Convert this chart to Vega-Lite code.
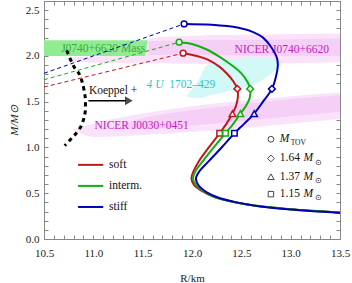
{
  "$schema": "https://vega.github.io/schema/vega-lite/v6.json",
  "width": 296,
  "height": 238,
  "autosize": {"type": "none"},
  "padding": {"left": 44, "top": 1, "right": 12, "bottom": 44},
  "background": "white",
  "config": {
    "font": "Liberation Serif",
    "view": {"stroke": "#888", "strokeWidth": 1},
    "axis": {"grid": false, "domain": false, "tickColor": "#888", "tickSize": -4, "labelFont": "Liberation Serif", "labelFontSize": 11, "labelColor": "#222", "titleFont": "Liberation Serif", "titleFontSize": 11, "titleFontWeight": "normal", "titleColor": "#222", "labelOverlap": false, "labelFlush": false}
  },
  "resolve": {"axis": {"x": "independent", "y": "independent"}},
  "datasets": {
    "band": [{"R": 10.5, "R2": 13.5, "M": 2.0, "M2": 2.17}],
    "j0740o": [
      {"R": 10.72, "M": 1.96, "M2": 1.97}, {"R": 10.8, "M": 1.935, "M2": 1.985}, {"R": 11.0, "M": 1.925, "M2": 1.995},
      {"R": 11.3, "M": 1.92, "M2": 2.0}, {"R": 11.52, "M": 1.92, "M2": 2.0}, {"R": 11.56, "M": 1.92, "M2": 2.19},
      {"R": 12.0, "M": 1.915, "M2": 2.22}, {"R": 12.5, "M": 1.915, "M2": 2.23}, {"R": 13.0, "M": 1.92, "M2": 2.24}, {"R": 13.5, "M": 1.93, "M2": 2.245}
    ],
    "j0740i": [
      {"R": 11.56, "M": 2.01, "M2": 2.16}, {"R": 12.0, "M": 2.01, "M2": 2.17}, {"R": 13.0, "M": 2.0, "M2": 2.18}, {"R": 13.5, "M": 2.0, "M2": 2.19}
    ],
    "j0030o": [
      {"R": 10.8, "M": 1.185, "M2": 1.195}, {"R": 10.9, "M": 1.14, "M2": 1.23}, {"R": 11.0, "M": 1.115, "M2": 1.26},
      {"R": 11.5, "M": 1.135, "M2": 1.37}, {"R": 12.0, "M": 1.17, "M2": 1.45}, {"R": 12.5, "M": 1.21, "M2": 1.51},
      {"R": 13.0, "M": 1.26, "M2": 1.56}, {"R": 13.5, "M": 1.31, "M2": 1.6}
    ],
    "j0030i": [
      {"R": 11.3, "M": 1.22, "M2": 1.26}, {"R": 11.5, "M": 1.2, "M2": 1.32}, {"R": 12.0, "M": 1.24, "M2": 1.41},
      {"R": 12.5, "M": 1.29, "M2": 1.47}, {"R": 13.0, "M": 1.34, "M2": 1.53}, {"R": 13.5, "M": 1.39, "M2": 1.57}
    ],
    "cyan": [
      {"R": 11.95, "M": 1.55, "M2": 1.57}, {"R": 12.08, "M": 1.54, "M2": 1.76}, {"R": 12.15, "M": 1.56, "M2": 1.9},
      {"R": 12.39, "M": 1.62, "M2": 1.96}, {"R": 12.69, "M": 1.72, "M2": 1.98}, {"R": 12.86, "M": 1.86, "M2": 1.95}, {"R": 12.9, "M": 1.9, "M2": 1.92}
    ],
    "dash": [
      {"eos": "soft", "R": 10.5, "M": 1.66}, {"eos": "soft", "R": 11.91, "M": 2.03},
      {"eos": "interm.", "R": 10.5, "M": 1.74}, {"eos": "interm.", "R": 11.87, "M": 2.15},
      {"eos": "stiff", "R": 10.5, "M": 1.81}, {"eos": "stiff", "R": 11.92, "M": 2.35}
    ],
    "koeppel": [
      {"i": 1, "R": 10.73, "M": 2.06}, {"i": 2, "R": 10.8, "M": 1.89}, {"i": 3, "R": 10.88, "M": 1.74}, {"i": 4, "R": 10.905, "M": 1.63},
      {"i": 5, "R": 10.92, "M": 1.52}, {"i": 6, "R": 10.92, "M": 1.41}, {"i": 7, "R": 10.89, "M": 1.27}, {"i": 8, "R": 10.85, "M": 1.19},
      {"i": 9, "R": 10.78, "M": 1.1}, {"i": 10, "R": 10.71, "M": 1.02}
    ],
    "arrow": [{"R": 10.95, "R2": 11.33, "M": 1.51}],
    "arrowhead": [{"R": 11.36, "M": 1.51}],
    "curves": [
      {"eos": "soft", "i": 1, "R": 11.91, "M": 2.03}, {"eos": "soft", "i": 2, "R": 12.05, "M": 2.0}, {"eos": "soft", "i": 3, "R": 12.16, "M": 1.96},
      {"eos": "soft", "i": 4, "R": 12.28, "M": 1.88}, {"eos": "soft", "i": 5, "R": 12.36, "M": 1.8}, {"eos": "soft", "i": 6, "R": 12.42, "M": 1.72},
      {"eos": "soft", "i": 7, "R": 12.46, "M": 1.64}, {"eos": "soft", "i": 8, "R": 12.465, "M": 1.55}, {"eos": "soft", "i": 9, "R": 12.445, "M": 1.45},
      {"eos": "soft", "i": 10, "R": 12.41, "M": 1.37}, {"eos": "soft", "i": 11, "R": 12.35, "M": 1.26}, {"eos": "soft", "i": 12, "R": 12.28, "M": 1.155},
      {"eos": "soft", "i": 13, "R": 12.17, "M": 1.0}, {"eos": "soft", "i": 14, "R": 12.07, "M": 0.85}, {"eos": "soft", "i": 15, "R": 12.015, "M": 0.74},
      {"eos": "soft", "i": 16, "R": 11.995, "M": 0.66}, {"eos": "soft", "i": 17, "R": 12.02, "M": 0.59}, {"eos": "soft", "i": 18, "R": 12.1, "M": 0.525},
      {"eos": "soft", "i": 19, "R": 12.22, "M": 0.46}, {"eos": "soft", "i": 20, "R": 12.4, "M": 0.41}, {"eos": "soft", "i": 21, "R": 12.66, "M": 0.36},
      {"eos": "soft", "i": 22, "R": 13.0, "M": 0.325}, {"eos": "soft", "i": 23, "R": 13.5, "M": 0.29},
      {"eos": "interm.", "i": 1, "R": 11.87, "M": 2.15}, {"eos": "interm.", "i": 2, "R": 12.0, "M": 2.13}, {"eos": "interm.", "i": 3, "R": 12.15, "M": 2.07},
      {"eos": "interm.", "i": 4, "R": 12.28, "M": 1.99}, {"eos": "interm.", "i": 5, "R": 12.4, "M": 1.9}, {"eos": "interm.", "i": 6, "R": 12.5, "M": 1.81},
      {"eos": "interm.", "i": 7, "R": 12.56, "M": 1.72}, {"eos": "interm.", "i": 8, "R": 12.59, "M": 1.64}, {"eos": "interm.", "i": 9, "R": 12.585, "M": 1.54},
      {"eos": "interm.", "i": 10, "R": 12.545, "M": 1.45}, {"eos": "interm.", "i": 11, "R": 12.49, "M": 1.37}, {"eos": "interm.", "i": 12, "R": 12.42, "M": 1.26},
      {"eos": "interm.", "i": 13, "R": 12.34, "M": 1.155}, {"eos": "interm.", "i": 14, "R": 12.22, "M": 1.0}, {"eos": "interm.", "i": 15, "R": 12.11, "M": 0.85},
      {"eos": "interm.", "i": 16, "R": 12.035, "M": 0.74}, {"eos": "interm.", "i": 17, "R": 12.01, "M": 0.66}, {"eos": "interm.", "i": 18, "R": 12.04, "M": 0.59},
      {"eos": "interm.", "i": 19, "R": 12.12, "M": 0.52}, {"eos": "interm.", "i": 20, "R": 12.24, "M": 0.455}, {"eos": "interm.", "i": 21, "R": 12.42, "M": 0.405},
      {"eos": "interm.", "i": 22, "R": 12.68, "M": 0.36}, {"eos": "interm.", "i": 23, "R": 13.0, "M": 0.325}, {"eos": "interm.", "i": 24, "R": 13.5, "M": 0.29},
      {"eos": "stiff", "i": 1, "R": 11.92, "M": 2.35}, {"eos": "stiff", "i": 2, "R": 12.2, "M": 2.34}, {"eos": "stiff", "i": 3, "R": 12.46, "M": 2.31},
      {"eos": "stiff", "i": 4, "R": 12.62, "M": 2.26}, {"eos": "stiff", "i": 5, "R": 12.72, "M": 2.2}, {"eos": "stiff", "i": 6, "R": 12.8, "M": 2.1},
      {"eos": "stiff", "i": 7, "R": 12.86, "M": 1.98}, {"eos": "stiff", "i": 8, "R": 12.87, "M": 1.9}, {"eos": "stiff", "i": 9, "R": 12.85, "M": 1.77},
      {"eos": "stiff", "i": 10, "R": 12.81, "M": 1.64}, {"eos": "stiff", "i": 11, "R": 12.72, "M": 1.5}, {"eos": "stiff", "i": 12, "R": 12.63, "M": 1.37},
      {"eos": "stiff", "i": 13, "R": 12.53, "M": 1.26}, {"eos": "stiff", "i": 14, "R": 12.43, "M": 1.155}, {"eos": "stiff", "i": 15, "R": 12.3, "M": 1.0},
      {"eos": "stiff", "i": 16, "R": 12.17, "M": 0.85}, {"eos": "stiff", "i": 17, "R": 12.075, "M": 0.74}, {"eos": "stiff", "i": 18, "R": 12.04, "M": 0.66},
      {"eos": "stiff", "i": 19, "R": 12.07, "M": 0.58}, {"eos": "stiff", "i": 20, "R": 12.15, "M": 0.51}, {"eos": "stiff", "i": 21, "R": 12.27, "M": 0.45},
      {"eos": "stiff", "i": 22, "R": 12.45, "M": 0.4}, {"eos": "stiff", "i": 23, "R": 12.7, "M": 0.355}, {"eos": "stiff", "i": 24, "R": 13.0, "M": 0.322},
      {"eos": "stiff", "i": 25, "R": 13.5, "M": 0.285}
    ],
    "markers": [
      {"eos": "soft", "kind": "tov", "R": 11.91, "M": 2.03}, {"eos": "soft", "kind": "d", "R": 12.46, "M": 1.64},
      {"eos": "soft", "kind": "t", "R": 12.41, "M": 1.37}, {"eos": "soft", "kind": "s", "R": 12.28, "M": 1.155},
      {"eos": "interm.", "kind": "tov", "R": 11.87, "M": 2.15}, {"eos": "interm.", "kind": "d", "R": 12.59, "M": 1.64},
      {"eos": "interm.", "kind": "t", "R": 12.49, "M": 1.37}, {"eos": "interm.", "kind": "s", "R": 12.34, "M": 1.155},
      {"eos": "stiff", "kind": "tov", "R": 11.92, "M": 2.35}, {"eos": "stiff", "kind": "d", "R": 12.81, "M": 1.64},
      {"eos": "stiff", "kind": "t", "R": 12.63, "M": 1.37}, {"eos": "stiff", "kind": "s", "R": 12.43, "M": 1.155}
    ],
    "notes": [
      {"style": "green", "t": "J0740+6620  Mass", "R": 11.1, "M": 2.08},
      {"style": "mag", "t": "NICER  J0740+6620", "R": 12.91, "M": 2.07},
      {"style": "mag", "t": "NICER  J0030+0451", "R": 11.49, "M": 1.235},
      {"style": "black", "t": "Koeppel +", "R": 11.2, "M": 1.62}
    ],
    "cyantext": [
      {"t": "4 U", "it": "italic", "R": 11.54, "M": 1.68},
      {"t": "1702\u2013429", "it": "normal", "R": 11.77, "M": 1.68}
    ],
    "legline": [
      {"eos": "soft", "R": 10.845, "R2": 11.1, "M": 0.81},
      {"eos": "interm.", "R": 10.845, "R2": 11.1, "M": 0.58},
      {"eos": "stiff", "R": 10.845, "R2": 11.1, "M": 0.35}
    ],
    "legtext": [
      {"t": "soft", "R": 11.16, "M": 0.81},
      {"t": "interm.", "R": 11.16, "M": 0.58},
      {"t": "stiff", "R": 11.16, "M": 0.35}
    ],
    "msym": [
      {"kind": "tov", "R": 12.8, "M": 1.09}, {"kind": "d", "R": 12.8, "M": 0.88},
      {"kind": "t", "R": 12.8, "M": 0.68}, {"kind": "s", "R": 12.8, "M": 0.49}
    ],
    "mnum": [
      {"t": "1.64", "R": 12.89, "M": 0.88}, {"t": "1.37", "R": 12.89, "M": 0.68}, {"t": "1.15", "R": 12.89, "M": 0.49}
    ],
    "mital": [
      {"t": "M", "R": 12.89, "M": 1.09}, {"t": "M", "R": 13.13, "M": 0.88}, {"t": "M", "R": 13.13, "M": 0.68}, {"t": "M", "R": 13.13, "M": 0.49}
    ],
    "msub": [
      {"t": "TOV", "R": 13.0, "M": 1.05}, {"t": "\u2299", "R": 13.25, "M": 0.835}, {"t": "\u2299", "R": 13.25, "M": 0.635}, {"t": "\u2299", "R": 13.25, "M": 0.445}
    ]
  },
  "encoding": {
    "x": {"field": "R", "type": "quantitative", "scale": {"domain": [10.5, 13.5], "nice": false, "zero": false}, "axis": null},
    "y": {"field": "M", "type": "quantitative", "scale": {"domain": [0, 2.6], "nice": false, "zero": false}, "axis": null}
  },
  "layer": [
    {
      "data": {"name": "band"},
      "mark": {"type": "rect", "color": "#90ec90"},
      "encoding": {
        "x": {"field": "R", "type": "quantitative", "scale": {"domain": [10.5, 13.5], "nice": false, "zero": false},
          "axis": {"orient": "bottom", "title": "R/km", "values": [10.5,10.6,10.7,10.8,10.9,11.0,11.1,11.2,11.3,11.4,11.5,11.6,11.7,11.8,11.9,12.0,12.1,12.2,12.3,12.4,12.5,12.6,12.7,12.8,12.9,13.0,13.1,13.2,13.3,13.4,13.5],
            "labelExpr": "(round(datum.value*10) % 5 == 0) ? format(datum.value, '.1f') : ''", "labelPadding": 12, "titlePadding": 14}},
        "x2": {"field": "R2"},
        "y": {"field": "M", "type": "quantitative", "scale": {"domain": [0, 2.6], "nice": false, "zero": false},
          "axis": {"orient": "left", "title": "M/M\u2299", "titleFontStyle": "italic", "values": [0,0.1,0.2,0.3,0.4,0.5,0.6,0.7,0.8,0.9,1.0,1.1,1.2,1.3,1.4,1.5,1.6,1.7,1.8,1.9,2.0,2.1,2.2,2.3,2.4,2.5,2.6],
            "labelExpr": "(round(datum.value*10) % 5 == 0) ? format(datum.value, '.1f') : ''", "labelPadding": 9, "titlePadding": 6}},
        "y2": {"field": "M2"}
      }
    },
    {
      "data": {"name": "band"},
      "mark": {"type": "rect", "opacity": 0},
      "encoding": {
        "x": {"field": "R", "type": "quantitative", "scale": {"domain": [10.5, 13.5], "nice": false, "zero": false},
          "axis": {"orient": "top", "title": null, "labels": false, "values": [10.5,10.6,10.7,10.8,10.9,11.0,11.1,11.2,11.3,11.4,11.5,11.6,11.7,11.8,11.9,12.0,12.1,12.2,12.3,12.4,12.5,12.6,12.7,12.8,12.9,13.0,13.1,13.2,13.3,13.4,13.5]}},
        "x2": {"field": "R2"},
        "y": {"field": "M", "type": "quantitative", "scale": {"domain": [0, 2.6], "nice": false, "zero": false},
          "axis": {"orient": "right", "title": null, "labels": false, "values": [0,0.1,0.2,0.3,0.4,0.5,0.6,0.7,0.8,0.9,1.0,1.1,1.2,1.3,1.4,1.5,1.6,1.7,1.8,1.9,2.0,2.1,2.2,2.3,2.4,2.5,2.6]}},
        "y2": {"field": "M2"}
      }
    },
    {"data": {"name": "j0740o"}, "mark": {"type": "area", "color": "#fbe2fb", "interpolate": "monotone"}, "encoding": {"y2": {"field": "M2"}}},
    {"data": {"name": "j0740i"}, "mark": {"type": "area", "color": "#f6cff6", "interpolate": "monotone"}, "encoding": {"y2": {"field": "M2"}}},
    {"data": {"name": "j0030o"}, "mark": {"type": "area", "color": "#fbe2fb", "interpolate": "monotone"}, "encoding": {"y2": {"field": "M2"}}},
    {"data": {"name": "j0030i"}, "mark": {"type": "area", "color": "#f6cff6", "interpolate": "monotone"}, "encoding": {"y2": {"field": "M2"}}},
    {"data": {"name": "cyan"}, "mark": {"type": "area", "color": "#d2f8f8", "interpolate": "monotone"}, "encoding": {"y2": {"field": "M2"}}},
    {"data": {"name": "notes"}, "transform": [{"filter": "datum.style == 'green'"}], "mark": {"type": "text", "color": "#3aaa3a", "fontSize": 11.5, "font": "Liberation Serif"}, "encoding": {"text": {"field": "t"}}},
    {"data": {"name": "notes"}, "transform": [{"filter": "datum.style == 'mag'"}], "mark": {"type": "text", "color": "#c21cc2", "fontSize": 11.5, "font": "Liberation Serif"}, "encoding": {"text": {"field": "t"}}},
    {"data": {"name": "notes"}, "transform": [{"filter": "datum.style == 'black'"}], "mark": {"type": "text", "color": "#111", "fontSize": 11.5, "font": "Liberation Serif"}, "encoding": {"text": {"field": "t"}}},
    {"data": {"name": "cyantext"}, "transform": [{"filter": "datum.it == 'italic'"}], "mark": {"type": "text", "color": "#33c4c4", "fontSize": 11.5, "align": "left", "fontStyle": "italic", "font": "Liberation Serif"}, "encoding": {"text": {"field": "t"}}},
    {"data": {"name": "cyantext"}, "transform": [{"filter": "datum.it == 'normal'"}], "mark": {"type": "text", "color": "#33c4c4", "fontSize": 11.5, "align": "left", "font": "Liberation Serif"}, "encoding": {"text": {"field": "t"}}},
    {"data": {"name": "dash"}, "mark": {"type": "line", "strokeDash": [4, 3], "strokeWidth": 1}, "encoding": {"color": {"field": "eos", "type": "nominal", "scale": {"domain": ["soft", "interm.", "stiff"], "range": ["#c01818", "#10b010", "#0000b4"]}, "legend": null}}},
    {"data": {"name": "koeppel"}, "mark": {"type": "line", "strokeDash": [4, 4], "strokeWidth": 3, "color": "#000", "interpolate": "monotone"}, "encoding": {"order": {"field": "i", "type": "quantitative"}}},
    {"data": {"name": "arrow"}, "mark": {"type": "rule", "strokeWidth": 1.5, "color": "#000"}, "encoding": {"x2": {"field": "R2"}}},
    {"data": {"name": "arrowhead"}, "mark": {"type": "point", "shape": "triangle-right", "filled": true, "color": "#000", "size": 80}, "encoding": {}},
    {"data": {"name": "curves"}, "mark": {"type": "line", "strokeWidth": 2, "interpolate": "catmull-rom"}, "encoding": {"order": {"field": "i", "type": "quantitative"}, "color": {"field": "eos", "type": "nominal", "scale": {"domain": ["soft", "interm.", "stiff"], "range": ["#c01818", "#10b010", "#0000b4"]}, "legend": null}}},
    {"data": {"name": "markers"}, "mark": {"type": "point", "filled": false, "fill": "white", "fillOpacity": 1, "strokeWidth": 1.5, "opacity": 1}, "encoding": {
      "color": {"field": "eos", "type": "nominal", "scale": {"domain": ["soft", "interm.", "stiff"], "range": ["#c01818", "#10b010", "#0000b4"]}, "legend": null},
      "shape": {"field": "kind", "type": "nominal", "scale": {"domain": ["tov", "d", "t", "s"], "range": ["circle", "diamond", "triangle-up", "square"]}, "legend": null},
      "size": {"field": "kind", "type": "nominal", "scale": {"type": "ordinal", "domain": ["tov", "d", "t", "s"], "range": [34, 46, 42, 30]}, "legend": null}}},
    {"data": {"name": "legline"}, "mark": {"type": "rule", "strokeWidth": 2}, "encoding": {"x2": {"field": "R2"}, "color": {"field": "eos", "type": "nominal", "scale": {"domain": ["soft", "interm.", "stiff"], "range": ["#c01818", "#10b010", "#0000b4"]}, "legend": null}}},
    {"data": {"name": "legtext"}, "mark": {"type": "text", "align": "left", "fontSize": 11.5, "color": "#111", "font": "Liberation Serif"}, "encoding": {"text": {"field": "t"}}},
    {"data": {"name": "msym"}, "mark": {"type": "point", "filled": false, "color": "#333", "strokeWidth": 0.9, "opacity": 1}, "encoding": {
      "shape": {"field": "kind", "type": "nominal", "scale": {"domain": ["tov", "d", "t", "s"], "range": ["circle", "diamond", "triangle-up", "square"]}, "legend": null},
      "size": {"field": "kind", "type": "nominal", "scale": {"type": "ordinal", "domain": ["tov", "d", "t", "s"], "range": [22, 24, 22, 18]}, "legend": null}}},
    {"data": {"name": "mnum"}, "mark": {"type": "text", "align": "left", "fontSize": 11.5, "color": "#111", "font": "Liberation Serif"}, "encoding": {"text": {"field": "t"}}},
    {"data": {"name": "mital"}, "mark": {"type": "text", "align": "left", "fontSize": 11.5, "fontStyle": "italic", "color": "#111", "font": "Liberation Serif"}, "encoding": {"text": {"field": "t"}}},
    {"data": {"name": "msub"}, "mark": {"type": "text", "align": "left", "fontSize": 7.5, "color": "#111", "font": "Liberation Serif"}, "encoding": {"text": {"field": "t"}}}
  ]
}
